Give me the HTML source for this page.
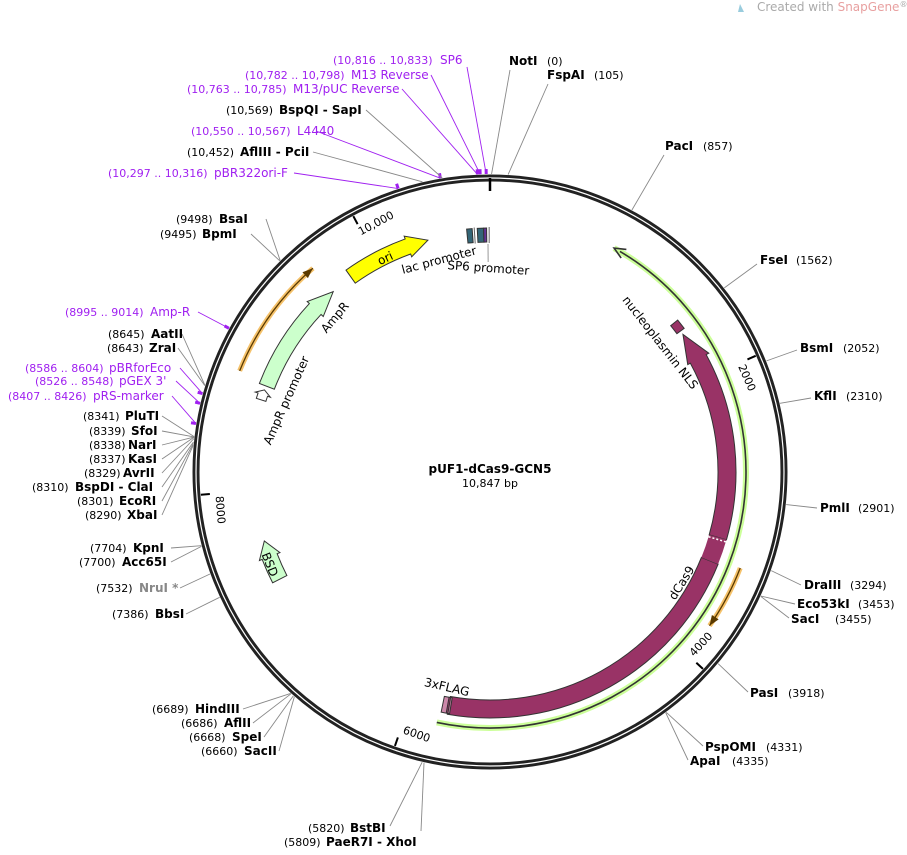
<!DOCTYPE html>
<html><head><meta charset="utf-8"><style>
body{margin:0;background:#fff;width:907px;height:850px;overflow:hidden}
svg{font-family:"DejaVu Sans","Liberation Sans",sans-serif}
.b{font-weight:bold;font-size:12px;fill:#000}
.n{font-size:11px;fill:#000}
.p{font-size:12px;fill:#a020f0}
.pn{font-size:11px;fill:#a020f0}
</style></head><body>
<svg id="s" width="907" height="850" viewBox="0 0 907 850" xmlns="http://www.w3.org/2000/svg">
<text x="757" y="11" font-size="12" fill="#aaa">Created with <tspan fill="#e8a0a0">SnapGene</tspan><tspan font-size="8" dy="-4">®</tspan></text>
<path d="M740 4 l4 8 l-6 0z" fill="#9cd"/>
<g id="g"></g>
<text x="490" y="473" text-anchor="middle" class="b" font-size="13">pUF1-dCas9-GCN5</text>
<text x="490" y="487" text-anchor="middle" class="n">10,847 bp</text>
</svg>
<script>
var cx=490,cy=472,NS="http://www.w3.org/2000/svg",g=document.getElementById('g');
function P(r,a){a=a*Math.PI/180;return [cx+r*Math.sin(a),cy-r*Math.cos(a)];}
function el(t,at,txt){var e=document.createElementNS(NS,t);for(var k in at)e.setAttribute(k,at[k]);if(txt!=null)e.textContent=txt;g.appendChild(e);return e;}
function arc(r,a1,a2){var p1=P(r,a1),p2=P(r,a2),l=Math.abs(a2-a1)>180?1:0,sw=a2>a1?1:0;return 'M'+p1+' A'+r+' '+r+' 0 '+l+' '+sw+' '+p2;}
function arrow(a1,a2,r,w,fill,stroke,head){
 var d=a2>a1?1:-1,ah=a2-d*head,ri=r-w/2,ro=r+w/2,hi=r-w/2-3,ho=r+w/2+3;
 var s='M'+P(ro,a1)+' A'+ro+' '+ro+' 0 '+(Math.abs(ah-a1)>180?1:0)+' '+(d>0?1:0)+' '+P(ro,ah);
 if(head>0){s+=' L'+P(ho,ah)+' L'+P(r,a2)+' L'+P(hi,ah)+' L'+P(ri,ah);} else s+=' L'+P(ri,a2);
 s+=' A'+ri+' '+ri+' 0 '+(Math.abs(ah-a1)>180?1:0)+' '+(d>0?0:1)+' '+P(ri,a1)+' Z';
 el('path',{d:s,fill:fill,stroke:stroke,'stroke-width':1});
}
function A(bp){return bp/10847*360;}
el('circle',{cx:cx,cy:cy,r:294,fill:'none',stroke:'#222','stroke-width':7});
el('circle',{cx:cx,cy:cy,r:294,fill:'none',stroke:'#fff','stroke-width':1.2});
el('line',{x1:490,y1:178,x2:490,y2:191,stroke:'#000','stroke-width':2.5});
[2000,4000,6000,8000,10000].forEach(function(t){
 var a=A(t),p1=P(290,a),p2=P(281,a);el('line',{x1:p1[0],y1:p1[1],x2:p2[0],y2:p2[1],stroke:'#000','stroke-width':2});
 var lab=t==10000?'10,000':''+t;var flip=(a>90&&a<270);var rot=flip?a-180:a;var pp=P(273,a+(flip?-3.5:3.5));
 el('text',{x:pp[0],y:pp[1],'font-size':11,'text-anchor':'middle',transform:'rotate('+rot+' '+pp[0]+' '+pp[1]+')','dominant-baseline':'middle'},lab);
});
(function(){var a1=192,a2=29;el('path',{d:arc(256,a1,a2),fill:'none',stroke:'#ccff99','stroke-width':6});el('path',{d:arc(256,a1,a2+1.5),fill:'none',stroke:'#333','stroke-width':1.6});
 var t=P(256,a2),b1=P(261,a2+2.5),b2=P(251,a2+2.5);el('path',{d:'M'+b1+' L'+t+' L'+b2,fill:'none',stroke:'#333','stroke-width':1.6});})();
function oarr(r,a1,a2){el('path',{d:arc(r,a1,a2),fill:'none',stroke:'#f5c26b','stroke-width':5});el('path',{d:arc(r,a1,a2),fill:'none',stroke:'#5a3a00','stroke-width':1.3});
 var d=a2>a1?1:-1,t=P(r,a2),b1=P(r+4,a2-d*2.2),b2=P(r-4,a2-d*2.2);el('path',{d:'M'+b1+' L'+t+' L'+b2+'Z',fill:'#5a3a00'});}
oarr(268,111,125);oarr(270,292,319);
arrow(190,112,237,18,'#993366','#333',0);
arrow(106,54.5,237,18,'#993366','#333',7);
arrow(112,106,237,18,'#993366','none',0);
(function(){var p1=P(228,106.5),p2=P(246,106.5);el('line',{x1:p1[0],y1:p1[1],x2:p2[0],y2:p2[1],stroke:'#fff','stroke-width':1.5,'stroke-dasharray':'2 2'});})();
arrow(53.5,51,237,9,'#993366','#333',0);
arrow(191.5,189.5,237,16,'#cc88aa','#333',0);
arrow(190.3,189.9,237,16,'#993366','#333',0);
arrow(291,319,239,16,'#ccffcc','#333',6);
arrow(287.5,290,240,10,'#fff','#333',1.2);
arrow(324.5,345,240,16,'#ffff00','#333',5);
arrow(243,253,236,16,'#ccffcc','#333',4);
arrow(354.5,355.8,237,14,'#336677','#333',0);
arrow(357,358.5,237,14,'#336677','#333',0);
arrow(358.5,359.2,237,14,'#663399','#333',0);
(function(){[356.3,359.8].forEach(function(a){var p1=P(229,a),p2=P(245,a);el('line',{x1:p1[0],y1:p1[1],x2:p2[0],y2:p2[1],stroke:'#666','stroke-width':1});});
 var p1=P(228,359.5),p2=P(210,359.5);el('line',{x1:p1[0],y1:p1[1],x2:p2[0],y2:p2[1],stroke:'#999','stroke-width':1});})();
function ft(x,y,r,t,fs){el('text',{x:x,y:y,'font-size':fs||12,'text-anchor':'middle',transform:'rotate('+r+' '+x+' '+y+')'},t);}
ft(387,262,-25,'ori');ft(338,320,-50,'AmpR');ft(290,402,-66,'AmpR promoter');ft(266,566,68,'BSD');ft(685,585,-58,'dCas9');
ft(657,345,52,'nucleoplasmin NLS');ft(446,691,13,'3xFLAG');ft(440,264,-15,'lac promoter');ft(488,272,4,'SP6 promoter');
function site(a,lx,ly,col){var p=P(298,a);el('line',{x1:p[0],y1:p[1],x2:lx,y2:ly,stroke:col||'#888','stroke-width':0.9});if(col){var q=P(298,a),q2=P(303,a);el('line',{x1:q[0],y1:q[1],x2:q2[0],y2:q2[1],stroke:'#a020f0','stroke-width':3});}}
function T(x,y,name,nx,num,cls,ncls){el('text',{x:x,y:y,class:cls||'b'},name);el('text',{x:nx,y:y,class:ncls||'n'},num);}
site(0.3,510,70);T(509,65,'NotI',547,'(0)');
site(A(105),548,84);T(547,79,'FspAI',594,'(105)');
site(A(857),664,155);T(665,150,'PacI',703,'(857)');
site(A(1562),757,264);T(760,264,'FseI',796,'(1562)');
site(A(2052),797,350);T(800,352,'BsmI',843,'(2052)');
site(A(2310),811,398);T(814,400,'KflI',846,'(2310)');
site(A(2901),817,508);T(820,512,'PmlI',858,'(2901)');
site(A(3294),801,585);T(804,589,'DraIII',850,'(3294)');
site(A(3453),795,604);T(797,608,'Eco53kI',858,'(3453)');
site(A(3455),789,618);T(791,623,'SacI',835,'(3455)');
site(A(3918),748,692);T(750,697,'PasI',788,'(3918)');
site(A(4331),703,746);T(705,751,'PspOMI',766,'(4331)');
site(A(4335),688,760);T(690,765,'ApaI',732,'(4335)');
site(A(5820),390,826);T(350,832,'BstBI',308,'(5820)');
site(A(5809),421,831);T(326,846,'PaeR7I - XhoI',284,'(5809)');
site(A(6689),243,709);T(195,713,'HindIII',152,'(6689)');
site(A(6686),253,723);T(224,727,'AflII',181,'(6686)');
site(A(6668),264,737);T(232,741,'SpeI',189,'(6668)');
site(A(6660),279,751);T(244,755,'SacII',201,'(6660)');
site(A(7386),186,614);T(155,618,'BbsI',112,'(7386)');
site(A(7532),180,588);el('text',{x:139,y:592,class:'b',style:'fill:#888'},'NruI *');el('text',{x:96,y:592,class:'n'},'(7532)');
site(A(7704),171,548);T(133,552,'KpnI',90,'(7704)');
site(A(7700),171,562);T(122,566,'Acc65I',79,'(7700)');
[['XbaI','(8290)',519,8290,127,85],['EcoRI','(8301)',505,8301,119,77],['BspDI - ClaI','(8310)',491,8310,75,32],['AvrII','(8329)',477,8329,123,84],['KasI','(8337)',463,8337,128,89],['NarI','(8338)',449,8338,128,89],['SfoI','(8339)',435,8339,131,89],['PluTI','(8341)',420,8341,125,83]].forEach(function(s){site(A(s[3]),162,s[2]-4);T(s[4],s[2],s[0],s[5],s[1]);});
site(A(8417),172,396,'#a020f0');T(93,400,"pRS-marker",8,'(8407 .. 8426)','p','pn');
site(A(8537),176,381,'#a020f0');T(119,385,"pGEX 3'",35,'(8526 .. 8548)','p','pn');
site(A(8595),180,368,'#a020f0');T(109,372,'pBRforEco',25,'(8586 .. 8604)','p','pn');
site(A(8643),178,348);T(149,352,'ZraI',107,'(8643)');
site(A(8645),182,334);T(151,338,'AatII',108,'(8645)');
site(A(9004),198,312,'#a020f0');T(150,316,'Amp-R',65,'(8995 .. 9014)','p','pn');
site(A(9495),251,234);T(202,238,'BpmI',160,'(9495)');
site(A(9498),266,219);T(219,223,'BsaI',176,'(9498)');
site(A(10306),294,173,'#a020f0');T(214,177,'pBR322ori-F',108,'(10,297 .. 10,316)','p','pn');
site(A(10452),313,152);T(240,156,'AflIII - PciI',187,'(10,452)');
site(A(10558),316,131,'#a020f0');T(297,135,'L4440',191,'(10,550 .. 10,567)','p','pn');
site(A(10569),366,110);T(279,114,'BspQI - SapI',226,'(10,569)');
site(A(10774),402,89,'#a020f0');T(293,93,'M13/pUC Reverse',187,'(10,763 .. 10,785)','p','pn');
site(A(10790),431,75,'#a020f0');T(351,79,'M13 Reverse',245,'(10,782 .. 10,798)','p','pn');
site(A(10825),467,67,'#a020f0');T(440,64,'SP6',333,'(10,816 .. 10,833)','p','pn');
</script>
</body></html>
